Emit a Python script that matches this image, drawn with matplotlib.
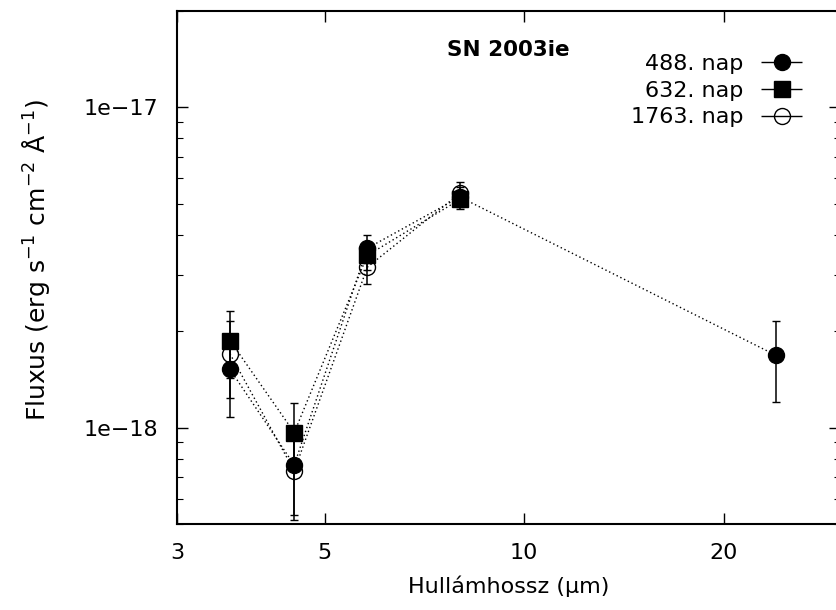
# -*- coding: utf-8 -*-
import matplotlib
matplotlib.use('Agg')
import matplotlib.pyplot as plt
from matplotlib.ticker import FixedLocator, NullLocator, LogLocator, NullFormatter
from matplotlib.legend_handler import HandlerErrorbar
from matplotlib.container import ErrorbarContainer

# wavelengths (micron)
wl_irac = [3.6, 4.5, 5.8, 8.0]
wl_all = [3.6, 4.5, 5.8, 8.0, 24.0]

# fluxes in 1e-18 erg/s/cm2/A
f488 = [1.52, 0.764, 3.63, 5.25, 1.68]
e488 = [0.44, 0.229, 0.36, 0.38, 0.48]
f632 = [1.87, 0.965, 3.45, 5.16]
e632 = [0.44, 0.225, 0.35, 0.36]
f1763 = [1.70, 0.732, 3.17, 5.39]
e1763 = [0.46, 0.216, 0.37, 0.47]

labels = ['488. nap', '632. nap', '1763. nap']
xticks = [3, 5, 10, 20]
yticks = [1e-18, 1e-17]
ytick_labels = ['1e\u221218', '1e\u221217']

fs = 16
plt.rcParams['font.family'] = ['DejaVu Sans']

fig = plt.figure(figsize=(8.37, 6.10), dpi=100)
ax = fig.add_axes([177.5 / 837, 86 / 610, 663 / 837, 513 / 610])

sc = 1e-18
series = [
    (wl_all, f488, e488, 'o', 'k'),
    (wl_irac, f632, e632, 's', 'k'),
    (wl_irac, f1763, e1763, 'o', 'none'),
]
for x, f, e, m, mfc in series:
    ax.errorbar(x, [v * sc for v in f], yerr=[v * sc for v in e],
                fmt=m, color='k', mfc=mfc, mec='k', ms=11.5, mew=1,
                ecolor='k', elinewidth=1.1, capsize=3, capthick=1,
                linestyle=(0, (1, 2)), lw=1)

# legend proxies (horizontal error bars like gnuplot key)
handles = []
for (x, f, e, m, mfc), lab in zip(series, labels):
    h = ax.errorbar([], [], xerr=[], fmt=m, color='k', mfc=mfc, mec='k',
                    ms=11.5, mew=1, ecolor='k', elinewidth=1, capsize=3,
                    capthick=1, linestyle='none', label=lab)
    handles.append(h)

ax.set_xscale('log')
ax.set_yscale('log')
ax.set_xlim(3, 30)
ax.set_ylim(5e-19, 2e-17)

ax.xaxis.set_major_locator(FixedLocator(xticks))
ax.set_xticklabels([str(t) for t in xticks])
ax.xaxis.set_minor_locator(NullLocator())
ax.yaxis.set_major_locator(FixedLocator(yticks))
ax.set_yticklabels(ytick_labels)
ax.yaxis.set_minor_locator(LogLocator(base=10, subs=range(2, 10)))
ax.yaxis.set_minor_formatter(NullFormatter())

ax.tick_params(which='both', direction='in', top=True, right=True, labelsize=fs)
ax.tick_params(which='major', length=8, width=1)
ax.tick_params(which='minor', length=4, width=0.8)
ax.tick_params(axis='y', pad=14)
ax.tick_params(axis='x', pad=14)
for s in ax.spines.values():
    s.set_linewidth(1.5)

ax.set_xlabel('Hullámhossz (μm)', fontsize=fs)
ax.set_ylabel('Fluxus (erg s$^{-1}$ cm$^{-2}$ Å$^{-1}$)', fontsize=18)
ax.xaxis.set_label_coords(0.5, -0.1)
ax.yaxis.set_label_coords(-0.19, 0.515)

ax.text(0.4985, 0.924, 'SN 2003ie', transform=ax.transAxes, ha='center',
        va='center', fontsize=15.5, fontweight='bold')

ax.legend(handles=handles, loc='upper right', bbox_to_anchor=(0.945, 0.916),
          frameon=False, markerfirst=False, fontsize=fs, borderpad=0,
          borderaxespad=0, handlelength=2.0, handletextpad=0.74,
          labelspacing=0.3,
          handler_map={ErrorbarContainer: HandlerErrorbar(xerr_size=0.92)})

fig.savefig('out.png', dpi=100)
